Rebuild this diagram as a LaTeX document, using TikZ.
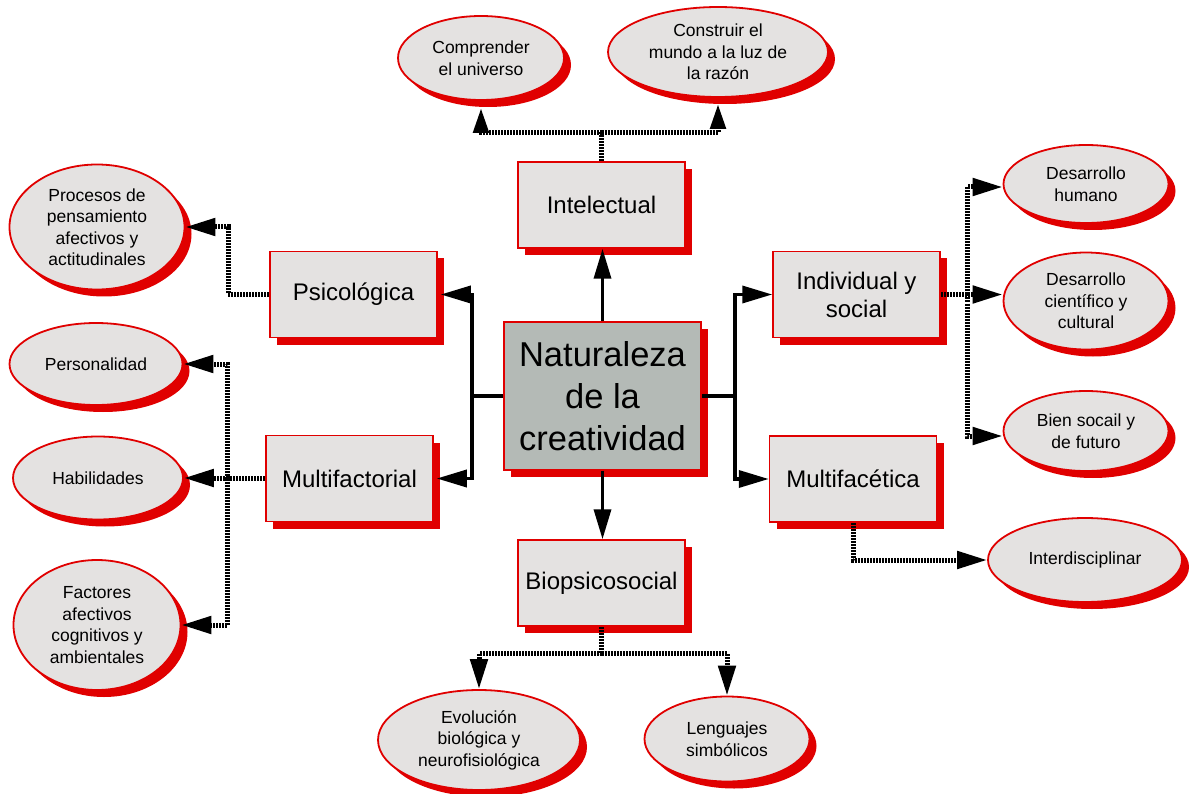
\documentclass[tikz,border=0pt]{standalone}
\usepackage{fontspec}
\setmainfont{Liberation Sans}
\usetikzlibrary{arrows.meta,shadows,shapes.geometric}
\definecolor{cred}{HTML}{E00000}
\definecolor{boxgray}{HTML}{E4E2E1}
\definecolor{centergray}{HTML}{B4BAB6}
\tikzset{
  box/.style={rectangle, draw=cred, line width=1.5pt, fill=boxgray, inner sep=0pt,
    minimum width=167pt, minimum height=86pt, align=center,
    font=\fontsize{24}{28}\selectfont,
    drop shadow={shadow xshift=7pt, shadow yshift=-7pt, fill=cred, opacity=1}},
  oval/.style={ellipse, draw=cred, line width=1.8pt, fill=boxgray, inner sep=0pt,
    align=center, font=\fontsize{17.5}{21.5}\selectfont,
    drop shadow={shadow xshift=7pt, shadow yshift=-7pt, fill=cred, opacity=1}},
  link/.style={line width=3.5pt, black},
  dotlink/.style={line width=5pt, black, dash pattern=on 2pt off 1pt},
  tipA/.style={-{Triangle[length=30pt,width=17pt]}},
  tipB/.style={-{Triangle[length=25pt,width=15pt]}},
}
\begin{document}
\begin{tikzpicture}[x=1pt,y=-1pt]
\useasboundingbox (0,0) rectangle (1191,794);

% boxes
\node[box, fill=centergray, minimum width=197pt, minimum height=148pt,
  font=\fontsize{34.5}{42}\selectfont] (nat) at (602.5,396) {Naturaleza\\de la\\creatividad};
\node[box] (int) at (601.5,205) {Intelectual};
\node[box] (psi) at (353.5,294.5) {Psicológica};
\node[box] (mf) at (349.5,478.5) {Multifactorial};
\node[box] (ind) at (856.5,294.5) {Individual y\\social};
\node[box] (mfa) at (853,479) {Multifacética};
\node[box] (bio) at (601.5,583) {Biopsicosocial};

% ellipses
\node[oval, minimum width=166pt, minimum height=84pt] (comp) at (481,58) {Comprender\\el universo};
\node[oval, minimum width=220pt, minimum height=90pt] (cons) at (718,52) {Construir el\\mundo a la luz de\\la razón};
\node[oval, minimum width=175pt, minimum height=125pt] (proc) at (97,227) {Procesos de\\pensamiento\\afectivos y\\actitudinales};
\node[oval, minimum width=173pt, minimum height=82pt] (pers) at (96,364) {Personalidad};
\node[oval, minimum width=170pt, minimum height=83pt] (hab) at (98,478) {Habilidades};
\node[oval, minimum width=167pt, minimum height=130pt] (fac) at (97,625) {Factores\\afectivos\\cognitivos y\\ambientales};
\node[oval, minimum width=165pt, minimum height=78pt] (dh) at (1086,184) {Desarrollo\\humano};
\node[oval, minimum width=165pt, minimum height=97pt] (dc) at (1086,301) {Desarrollo\\científico y\\cultural};
\node[oval, minimum width=165pt, minimum height=80pt] (bs) at (1086,431) {Bien socail y\\de futuro};
\node[oval, minimum width=194pt, minimum height=84pt] (inter) at (1085,560) {Interdisciplinar};
\node[oval, minimum width=202pt, minimum height=100pt] (evo) at (479,740) {Evolución\\biológica y\\neurofisiológica};
\node[oval, minimum width=165pt, minimum height=85pt] (len) at (727,739) {Lenguajes\\simbólicos};

% solid connectors from the centre
\draw[link, tipA] (nat.north) -- (nat.north |- int.south);
\draw[link, tipA] (nat.south) -- (nat.south |- bio.north);
\coordinate (lj) at (472,396);
\coordinate (rj) at (735,396);
\draw[link] (nat.west) -- (lj);
\draw[link] (nat.east) -- (rj);
\draw[link, tipA] (lj) |- ([xshift=3pt]psi.east);
\draw[link, tipA] (lj) |- ([xshift=3pt]mf.east);
\draw[link, tipA] (rj) |- (ind.west);
\draw[link, tipA] (rj) |- (mfa.west);

% dotted connectors
\draw[dotlink] (int.north) -- ++(0,-29) coordinate (ij);
\draw[dotlink, tipB] (ij) -| ([yshift=-7pt]comp.south);
\draw[dotlink, tipB] (ij) -| ([yshift=-6pt]cons.south);

\draw[dotlink, tipA] (psi.west) -- ++(-41,0) |- (proc.east);

\draw[dotlink] (mf.west) -- ++(-38,0) coordinate (mj);
\draw[dotlink, tipA] (mj) |- (pers.east);
\draw[dotlink, tipA] (mj) |- (hab.east);
\draw[dotlink, tipA] (mj) |- (fac.east);

\draw[dotlink] (ind.east) -- ++(27,0) coordinate (ij2);
\draw[dotlink, tipA] (ij2) |- ([yshift=-3pt]dh.west);
\draw[dotlink, tipA] (ij2) -- (ij2 -| dc.west);
\draw[dotlink, tipA] (ij2) |- ([yshift=-5pt]bs.west);

\draw[dotlink, tipA] (mfa.south) |- (inter.west);

\draw[dotlink] (bio.south) -- ++(0,27) coordinate (bj);
\draw[dotlink, tipA] (bj) -| (evo.north);
\draw[dotlink, tipA] (bj) -| (len.north);
\end{tikzpicture}
\end{document}
